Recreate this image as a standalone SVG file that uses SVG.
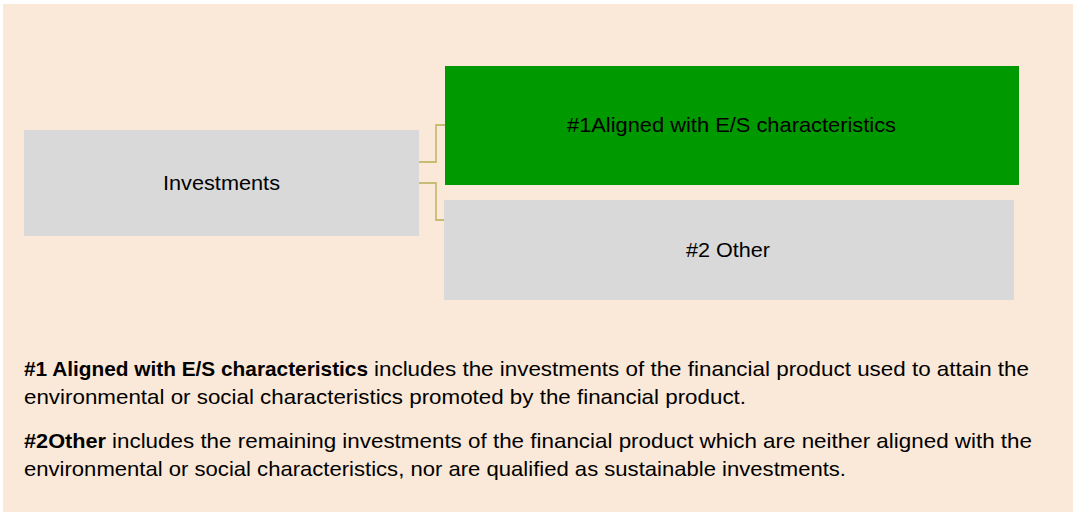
<svg xmlns="http://www.w3.org/2000/svg" width="1073" height="513" viewBox="0 0 1073 513">
<style>
.t{font-family:"Liberation Sans",Arial,sans-serif;font-size:21px;fill:#000}
.b{font-weight:bold}
.box{fill:#d9d9d9}
.conn{fill:none;stroke:#c8bb74;stroke-width:1.8}
</style>
<rect x="0" y="0" width="1073" height="513" fill="#ffffff"/>
<rect x="3" y="4" width="1070" height="508" fill="#fae8d8"/>
<g id="connectors">
<polyline class="conn" points="419,162 436,162 436,125 445,125"/>
<polyline class="conn" points="419,183 436,183 436,220 444,220"/>
</g>
<g id="investments">
<rect class="box" x="24" y="130" width="395" height="106"/>
<text class="t" x="163" y="190" textLength="117" lengthAdjust="spacingAndGlyphs">Investments</text>
</g>
<g id="aligned">
<rect x="445" y="66" width="574" height="119" fill="#009900"/>
<text class="t" x="567" y="132" textLength="329" lengthAdjust="spacingAndGlyphs">#1Aligned with E/S characteristics</text>
</g>
<g id="other">
<rect class="box" x="444" y="200" width="570" height="100"/>
<text class="t" x="686" y="257" textLength="84" lengthAdjust="spacingAndGlyphs">#2 Other</text>
</g>
<g id="legend">
<text class="t"><tspan class="b" x="24" y="376" textLength="344" lengthAdjust="spacingAndGlyphs">#1 Aligned with E/S characteristics</tspan><tspan x="374" y="376" textLength="655" lengthAdjust="spacingAndGlyphs">includes the investments of the financial product used to attain the</tspan></text>
<text class="t" x="24" y="404" textLength="722" lengthAdjust="spacingAndGlyphs">environmental or social characteristics promoted by the financial product.</text>
<text class="t"><tspan class="b" x="24" y="448" textLength="82" lengthAdjust="spacingAndGlyphs">#2Other</tspan><tspan x="112" y="448" textLength="920" lengthAdjust="spacingAndGlyphs">includes the remaining investments of the financial product which are neither aligned with the</tspan></text>
<text class="t" x="24" y="476" textLength="822" lengthAdjust="spacingAndGlyphs">environmental or social characteristics, nor are qualified as sustainable investments.</text>
</g>
</svg>
